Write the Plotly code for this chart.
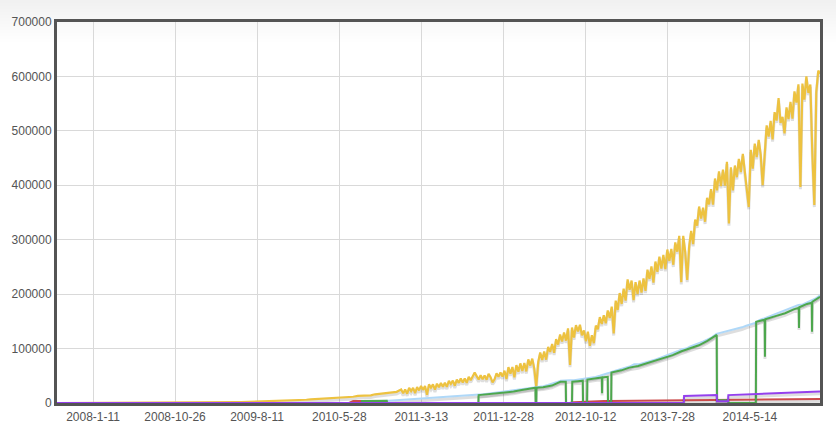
import pandas as pd
import plotly.graph_objects as go

# ---------------- data ----------------
# shared semi-monthly grid (used by the light-blue and red series, and early yellow)
semi_monthly = [f"{y}-{m:02d}-{d:02d}" for y in range(2009, 2015) for m in range(1, 13) for d in (1, 16)]
grid_dates = ["2007-09-06"] + semi_monthly + ["2015-01-01", "2015-01-16"]

# yellow series: semi-monthly 2009-2010, weekly from 2011 (values in thousands)
yellow_early_dates = ["2007-09-06"] + [d for d in semi_monthly if d < "2011-01-01"]
yellow_early_k = [0,
    0.3, 0.4, 0.5, 0.6, 0.7, 0.8, 1.0, 1.1, 1.3, 1.4, 1.6, 1.8, 2.0, 2.2, 2.4, 2.6, 2.8, 3.0, 3.3, 3.5, 3.8, 4.1, 4.4, 4.7,
    5.0, 5.6, 6.0, 6.8, 7.2, 7.6, 8.4, 8.8, 9.6, 9.2, 10.5, 11, 11.8, 11.5, 13, 13.5, 14.5, 14, 16, 16.8, 18, 17.5, 19.5, 20.5]
yellow_weekly_k = [
    # 2011
    25, 17.7, 24.9, 17.1, 27.9, 21.9, 27.9, 18.3, 29.4, 23.1, 31.4, 24.1, 31.3, 15, 34.2, 28.1, 34.1, 24.4, 35.5, 29.1,
    36.9, 29.9, 37.3, 29.7, 40.7, 34.9, 41.1, 31.7, 43, 36.9, 44.9, 37.7, 44.9, 37.1, 47.9, 41.9, 47.9, 56, 49.4, 43.1,
    50.9, 43.6, 50.7, 42.8, 53.5, 47.4, 38, 43.6, 54.6, 48.2, 55.9, 48.6,
    # 2012
    59.4, 44.1, 66, 53.8, 66.1, 47.2, 69.7, 57.4, 72.8, 58.7, 73.4, 58.1, 80, 68.8, 81.6, 63.2, 30, 75.4, 92.8, 79.2,
    94.4, 79.6, 103, 93.8, 108.6, 92.2, 117.2, 107.4, 125.8, 113.2, 129.4, 114.6, 137, 70, 138.6, 120.2, 143.2, 131.4, 143.8, 124.2,
    133.4, 113.6, 131, 105, 124.6, 110, 142.2, 135.4, 157.8, 145.2, 161.4, 146.6, 170,
    # 2013
    156, 177, 128, 188, 171, 202, 182, 210, 188, 227, 208, 225, 189, 222, 200, 225, 203, 229, 206, 245,
    228, 251, 221, 260, 241, 269, 247, 272, 246, 282, 261, 283, 254, 295, 278, 307, 222, 307, 277, 226,
    288, 316, 292, 337, 326, 361, 339, 359, 333, 377, 365, 393,
    # 2014
    364.4, 412.4, 390.8, 425.6, 398.4, 428.8, 399.2, 443, 330, 433.2, 390.4, 436.4, 414.8, 448.6, 424.4, 457.8, 422.2, 386, 360, 465.2,
    430.4, 476.4, 451.8, 483.6, 456.4, 400, 462.2, 510, 489.6, 518.2, 484.4, 534.4, 518.8, 560, 514.4, 525.8, 495.2, 543, 521.6, 553.2,
    522.4, 572.4, 551.8, 585.6, 397, 586.8, 557.2, 600, 569.6, 585.2, 459, 364, 571.8, 610.6,
    # 2015-01-16
    605]
weekly_dates = [d.strftime("%Y-%m-%d") for d in pd.date_range("2011-01-01", periods=len(yellow_weekly_k) - 1, freq="7D")] + ["2015-01-16"]
yellow_dates = yellow_early_dates + weekly_dates
yellow = [v * 1000 for v in yellow_early_k + yellow_weekly_k]

light_blue = [0,
    0, 0, 0, 0, 0, 0, 0, 0, 0, 0, 0, 0, 0, 0, 0, 0, 0, 0, 0, 0, 0, 0, 0, 0,
    0, 0, 0, 0, 0, 0, 0, 0, 0, 0, 0, 0, 0, 0, 2500, 3000, 3000, 3000, 3000, 3000, 3500, 4000, 4500, 5000,
    6000, 6500, 7000, 7500, 8000, 8500, 9000, 9500, 10000, 10300, 10700, 11000, 11500, 12000, 12500, 13000, 13500, 14000, 15000, 16000, 17000, 18000, 19000, 20000,
    21000, 22000, 23000, 24000, 25500, 27000, 28000, 29000, 30000, 31000, 33000, 35000, 38000, 41000, 42000, 42000, 42000, 43000, 44000, 45000, 46000, 48000, 50000, 52000,
    55000, 58000, 61000, 63000, 65000, 67000, 71000, 71000, 73000, 76000, 78000, 80000, 83000, 86000, 89000, 91000, 95000, 99000, 100000, 104000, 107000, 109000, 113000, 117000,
    121000, 127000, 129000, 131000, 133000, 135000, 137000, 139000, 142000, 144000, 147000, 152000, 155000, 158000, 161000, 165000, 168000, 171000, 173000, 177000, 180000, 181000, 185000, 188000,
    192000, 198000]

red = [0,
    0, 0, 0, 0, 0, 0, 0, 0, 0, 0, 0, 0, 0, 0, 0, 0, 0, 0, 0, 0, 0, 0, 0, 0,
    0, 0, 0, 0, 0, 0, 0, 0, 0, 0, 0, 0, 0, 3500, 3500, 3500, 3500, 3500, 3500, 3500, 3500, 0, 0, 0,
    0, 0, 0, 0, 0, 0, 0, 0, 0, 0, 0, 0, 0, 0, 0, 0, 0, 0, 0, 0, 0, 0, 0, 0,
    0, 0, 0, 0, 0, 0, 0, 0, 0, 0, 0, 0, 0, 0, 0, 0, 1500, 2000, 2500, 2800, 3000, 3200, 3500, 3700,
    3800, 3900, 4000, 4000, 4100, 4100, 4200, 4200, 4300, 4300, 4400, 4400, 4500, 4500, 4600, 4600, 4700, 5000, 5200, 5300, 5400, 5500, 5600, 5700,
    5800, 5900, 6000, 6000, 6100, 6100, 6200, 6200, 6300, 6300, 6400, 6400, 6500, 6500, 6600, 6600, 6700, 6700, 6800, 6800, 6900, 6900, 7000, 7000,
    7100, 7200]

green_dates = ["2007-09-06", "2010-08-15", "2010-08-16", "2010-09-15", "2010-11-11", "2010-11-12",
    "2011-09-30", "2011-10-01", "2011-11-01", "2011-12-01", "2012-01-01", "2012-02-01", "2012-03-01",
    "2012-04-01", "2012-04-18", "2012-04-19", "2012-04-21", "2012-04-22", "2012-05-15", "2012-06-15",
    "2012-07-15", "2012-08-03", "2012-08-04", "2012-08-25", "2012-08-26", "2012-09-15", "2012-10-02",
    "2012-10-03", "2012-10-17", "2012-10-18", "2012-11-15", "2012-12-08", "2012-12-09", "2012-12-10",
    "2012-12-29", "2012-12-30", "2013-01-10", "2013-01-11", "2013-02-15", "2013-03-15", "2013-04-15",
    "2013-05-15", "2013-06-15", "2013-07-15", "2013-08-15", "2013-09-15", "2013-10-15", "2013-11-15",
    "2013-12-15", "2014-01-17", "2014-01-18", "2014-02-26", "2014-02-27", "2014-06-04", "2014-06-05",
    "2014-07-05", "2014-07-06", "2014-07-07", "2014-08-15", "2014-09-15", "2014-10-15", "2014-11-02",
    "2014-11-03", "2014-11-04", "2014-12-01", "2014-12-18", "2014-12-19", "2014-12-20", "2015-01-16"]
green_values = [0, 0, 3500, 3700, 3900, 0,
    0, 14500, 16000, 17500, 19000, 21000, 24000,
    27000, 28000, 0, 0, 28000, 29000, 32000,
    39000, 39000, 0, 0, 39000, 40000, 41000,
    0, 0, 43000, 45000, 47000, 18000, 47000,
    48000, 0, 0, 56000, 60000, 65000, 68000,
    73000, 77000, 83000, 88000, 95000, 101000, 106000,
    114000, 125000, 5000, 5000, 0, 0, 149000,
    153000, 85000, 154000, 160000, 165000, 172000, 175000,
    138000, 176000, 182000, 184000, 131000, 186000, 195000]

purple_dates = ["2007-09-06", "2013-09-23", "2013-09-24", "2013-11-01", "2013-12-15", "2014-01-17",
    "2014-01-18", "2014-02-26", "2014-02-27", "2014-04-01", "2014-06-01", "2014-08-01", "2014-10-01",
    "2014-12-01", "2015-01-16"]
purple_values = [0, 0, 13000, 13500, 14200, 14700,
    3000, 3000, 14500, 15300, 16600, 18000, 19000,
    20000, 21000]

x_tick_dates = ["2008-01-11", "2008-10-26", "2009-08-11", "2010-05-28", "2011-03-13",
                "2011-12-28", "2012-10-12", "2013-07-28", "2014-05-14"]
x_tick_labels = ["2008-1-11", "2008-10-26", "2009-8-11", "2010-5-28", "2011-3-13",
                 "2011-12-28", "2012-10-12", "2013-7-28", "2014-5-14"]
y_tick_values = [0, 100000, 200000, 300000, 400000, 500000, 600000, 700000]
y_tick_labels = ["0", "100000", "200000", "300000", "400000", "500000", "600000", "700000"]

assert len(yellow_dates) == len(yellow)
assert len(grid_dates) == len(light_blue) == len(red)
assert len(green_dates) == len(green_values)
assert len(purple_dates) == len(purple_values)

# ---------------- figure ----------------
W, H = 836, 433
ML, MR, MT, MB = 57, 16, 22, 30
PW, PH = W - ML - MR, H - MT - MB
YMAX = 700000

series = [
    ("s1", "#edc240", yellow_dates, yellow),
    ("s2", "#afd8f8", grid_dates, light_blue),
    ("s3", "#cb4b4b", grid_dates, red),
    ("s4", "#4da74d", green_dates, green_values),
    ("s5", "#9440ed", purple_dates, purple_values),
]

shadow_off = 2.2 * YMAX / PH

fig = go.Figure()
for name, color, xs, vals in series:
    fig.add_trace(go.Scatter(
        x=xs, y=[v - shadow_off for v in vals], mode="lines",
        line=dict(color="rgba(0,0,0,0.13)", width=3), hoverinfo="skip", showlegend=False))
    fig.add_trace(go.Scatter(
        x=xs, y=vals, mode="lines", name=name,
        line=dict(color=color, width=2.2 if name == "s1" else 2), showlegend=False))

# light gray gradient at the top of the page
shapes = []
n_bands = 15
band_h = 3
for i in range(n_bands):
    g = int(241 + (255 - 241) * i / (n_bands - 1))
    y_top = i * band_h
    y_bot = (i + 1) * band_h
    shapes.append(dict(
        type="rect", xref="paper", yref="paper", layer="below",
        x0=-ML / PW, x1=1 + MR / PW,
        y0=1 + (MT - y_bot) / PH, y1=1 + (MT - y_top) / PH,
        fillcolor=f"rgb({g},{g},{g})", line=dict(width=0)))

font = dict(family="Liberation Sans, Arial, Helvetica, sans-serif", size=12, color="#545454")

fig.update_layout(
    width=W, height=H,
    margin=dict(l=ML, r=MR, t=MT, b=MB, pad=0, autoexpand=False),
    paper_bgcolor="white", plot_bgcolor="white",
    showlegend=False, shapes=shapes, font=font,
    xaxis=dict(
        type="date", range=["2007-09-06", "2015-01-16"],
        tickmode="array", tickvals=x_tick_dates, ticktext=x_tick_labels,
        showgrid=True, gridcolor="#d9d9d9", gridwidth=1,
        showline=True, linecolor="#545454", linewidth=3, mirror=True,
        ticks="", zeroline=False, tickfont=font, ticklabelstandoff=1, automargin=False),
    yaxis=dict(
        range=[0, YMAX], tickmode="array", tickvals=y_tick_values, ticktext=y_tick_labels,
        showgrid=True, gridcolor="#d9d9d9", gridwidth=1,
        showline=True, linecolor="#545454", linewidth=3, mirror=True,
        ticks="", zeroline=False, tickfont=font, ticklabelstandoff=0, automargin=False),
)

fig.write_html("out.html", config={"displayModeBar": False},
               post_script="document.body.style.margin='0';")
